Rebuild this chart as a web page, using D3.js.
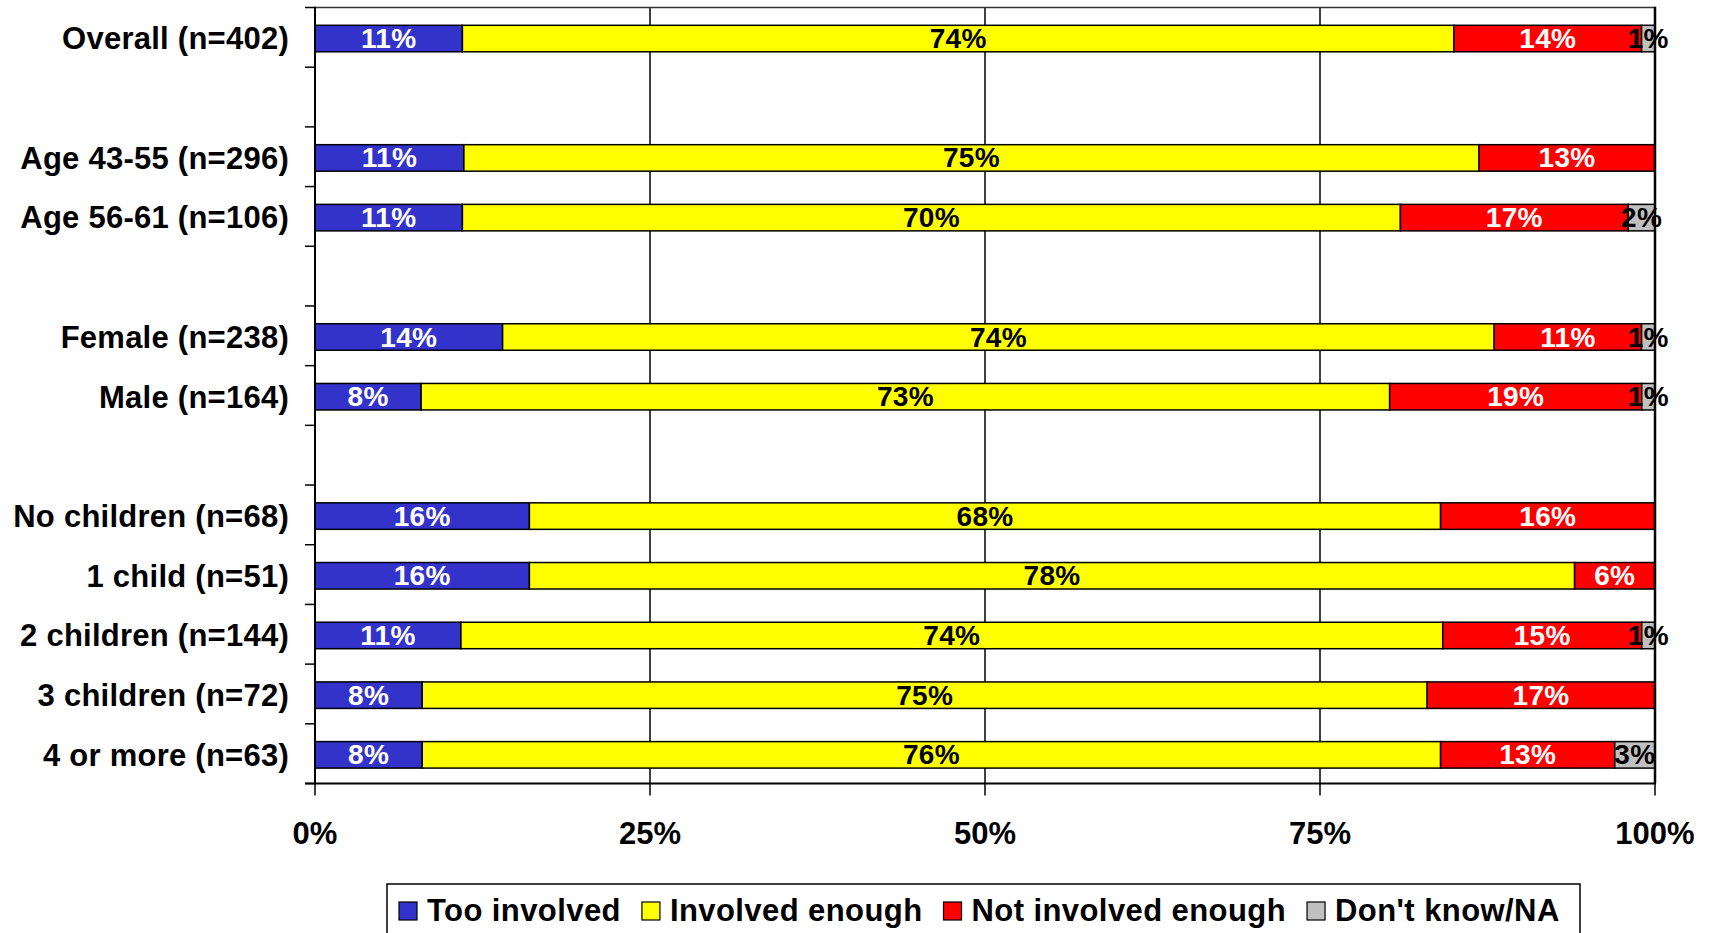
<!DOCTYPE html>
<html>
<head>
<meta charset="utf-8">
<script src="https://cdn.jsdelivr.net/npm/d3@7"></script>
<style>
  html, body { margin: 0; padding: 0; background: #fff; }
  svg { display: block; }
  text { font-family: "Liberation Sans", Arial, sans-serif; font-weight: bold; }
</style>
</head>
<body>
<svg id="chart" width="1712" height="933"></svg>
<script>
// ---- Data ----
const categories = [
  "Overall (n=402)", "", "Age 43-55 (n=296)", "Age 56-61 (n=106)", " ",
  "Female (n=238)", "Male (n=164)", "  ",
  "No children (n=68)", "1 child (n=51)", "2 children (n=144)", "3 children (n=72)", "4 or more (n=63)"
];
const seriesNames = ["Too involved", "Involved enough", "Not involved enough", "Don't know/NA"];
const tooInvolved      = [11, null, 11, 11, null, 14,  8, null, 16, 16, 11,  8,  8];
const involvedEnough   = [74, null, 75, 70, null, 74, 73, null, 68, 78, 74, 75, 76];
const notInvolvedEnough= [14, null, 13, 17, null, 11, 19, null, 16,  6, 15, 17, 13];
const dontKnow         = [ 1, null,  0,  2, null,  1,  1, null,  0,  0,  1,  0,  3];
const xTickValues = [0, 0.25, 0.5, 0.75, 1];
const xTickLabels = ["0%", "25%", "50%", "75%", "100%"];

const colors = ["#3333CC", "#FFFF00", "#FF0000", "#C0C0C0"];
const labelColors = ["#FFFFFF", "#000000", "#FFFFFF", "#000000"];

// ---- Layout ----
const svg = d3.select("#chart");
const pLeft = 315, pRight = 1655, pTop = 7.5, pBottom = 783.5;

const x = d3.scaleLinear().domain([0, 1]).range([pLeft, pRight]);
const y = d3.scaleBand().domain(categories).range([pTop, pBottom]).paddingInner(0).paddingOuter(0);
const bw = y.bandwidth();
const bh = 26.5;
const barOff = (bw - bh) / 2 + 1.2;

const series = [tooInvolved, involvedEnough, notInvolvedEnough, dontKnow];
const rows = categories.map((c, i) => {
  const o = { cat: c, blank: tooInvolved[i] === null };
  seriesNames.forEach((s, k) => o[s] = series[k][i] === null ? 0 : series[k][i]);
  return o;
});
const realRows = rows.filter(r => !r.blank);
const stacked = d3.stack().keys(seriesNames).offset(d3.stackOffsetExpand)(realRows);

// gridlines
svg.append("g").selectAll("line").data([0.25, 0.5, 0.75]).join("line")
  .attr("x1", d => x(d)).attr("x2", d => x(d))
  .attr("y1", pTop).attr("y2", pBottom)
  .attr("stroke", "#000").attr("stroke-width", 1.5);

// top border
svg.append("line").attr("x1", pLeft).attr("x2", pRight).attr("y1", pTop).attr("y2", pTop)
  .attr("stroke", "#333").attr("stroke-width", 1.5);

// bars
stacked.forEach((layer, k) => {
  const g = svg.append("g");
  g.selectAll("rect").data(layer).join("rect")
    .attr("x", d => x(d[0]))
    .attr("y", d => y(d.data.cat) + barOff)
    .attr("width", d => Math.max(0, x(d[1]) - x(d[0])))
    .attr("height", bh)
    .attr("fill", colors[k])
    .attr("stroke", d => (d[1] - d[0]) > 0 ? "#000" : "none")
    .attr("stroke-width", 1.5);
});
// value labels
stacked.forEach((layer, k) => {
  svg.append("g").selectAll("text").data(layer.filter(d => d.data[seriesNames[k]] > 0)).join("text")
    .attr("x", d => (x(d[0]) + x(d[1])) / 2)
    .attr("y", d => y(d.data.cat) + barOff + bh / 2 + 9.5)
    .attr("text-anchor", "middle")
    .attr("font-size", 28)
    .attr("letter-spacing", 0.3)
    .attr("fill", labelColors[k])
    .text(d => d.data[seriesNames[k]] + "%");
});

// right border
svg.append("line").attr("x1", pRight).attr("x2", pRight).attr("y1", pTop - 0.75).attr("y2", pBottom)
  .attr("stroke", "#000").attr("stroke-width", 2.5);

// left axis
const yAxisG = svg.append("g");
yAxisG.append("line").attr("x1", pLeft).attr("x2", pLeft).attr("y1", pTop - 0.75).attr("y2", pBottom + 1)
  .attr("stroke", "#000").attr("stroke-width", 2);
const bounds = d3.range(categories.length + 1).map(i => pTop + i * bw);
yAxisG.selectAll("line.tk").data(bounds).join("line").attr("class", "tk")
  .attr("x1", pLeft - 10).attr("x2", pLeft).attr("y1", d => d).attr("y2", d => d)
  .attr("stroke", "#000").attr("stroke-width", 1.5);
yAxisG.selectAll("text").data(categories.filter(c => c.trim() !== "")).join("text")
  .attr("x", 289)
  .attr("y", d => y(d) + bw / 2 + 12)
  .attr("text-anchor", "end")
  .attr("font-size", 31)
  .attr("letter-spacing", 0.25)
  .attr("fill", "#000")
  .text(d => d);

// bottom axis
const xAxisG = svg.append("g");
xAxisG.append("line").attr("x1", pLeft - 10).attr("x2", pRight + 1).attr("y1", pBottom).attr("y2", pBottom)
  .attr("stroke", "#000").attr("stroke-width", 2);
xAxisG.selectAll("line.tk").data(xTickValues).join("line").attr("class", "tk")
  .attr("x1", d => x(d)).attr("x2", d => x(d)).attr("y1", pBottom).attr("y2", pBottom + 12)
  .attr("stroke", "#000").attr("stroke-width", 1.5);
xAxisG.selectAll("text").data(xTickValues).join("text")
  .attr("x", d => x(d))
  .attr("y", 844)
  .attr("text-anchor", "middle")
  .attr("font-size", 31)
  .attr("fill", "#000")
  .text((d, i) => xTickLabels[i]);

// legend
const lg = svg.append("g");
lg.append("rect").attr("x", 387).attr("y", 884).attr("width", 1193).attr("height", 70)
  .attr("fill", "#fff").attr("stroke", "#000").attr("stroke-width", 1.5);
let lx = 399;
seriesNames.forEach((s, k) => {
  lg.append("rect").attr("x", lx).attr("y", 902).attr("width", 18).attr("height", 18)
    .attr("fill", colors[k]).attr("stroke", "#000").attr("stroke-width", 1.2);
  const t = lg.append("text").attr("x", lx + 28).attr("y", 921)
    .attr("font-size", 31).attr("letter-spacing", 0.42).attr("fill", "#000").text(s);
  lx = lx + 28 + t.node().getComputedTextLength() + 21;
});
</script>
</body>
</html>
